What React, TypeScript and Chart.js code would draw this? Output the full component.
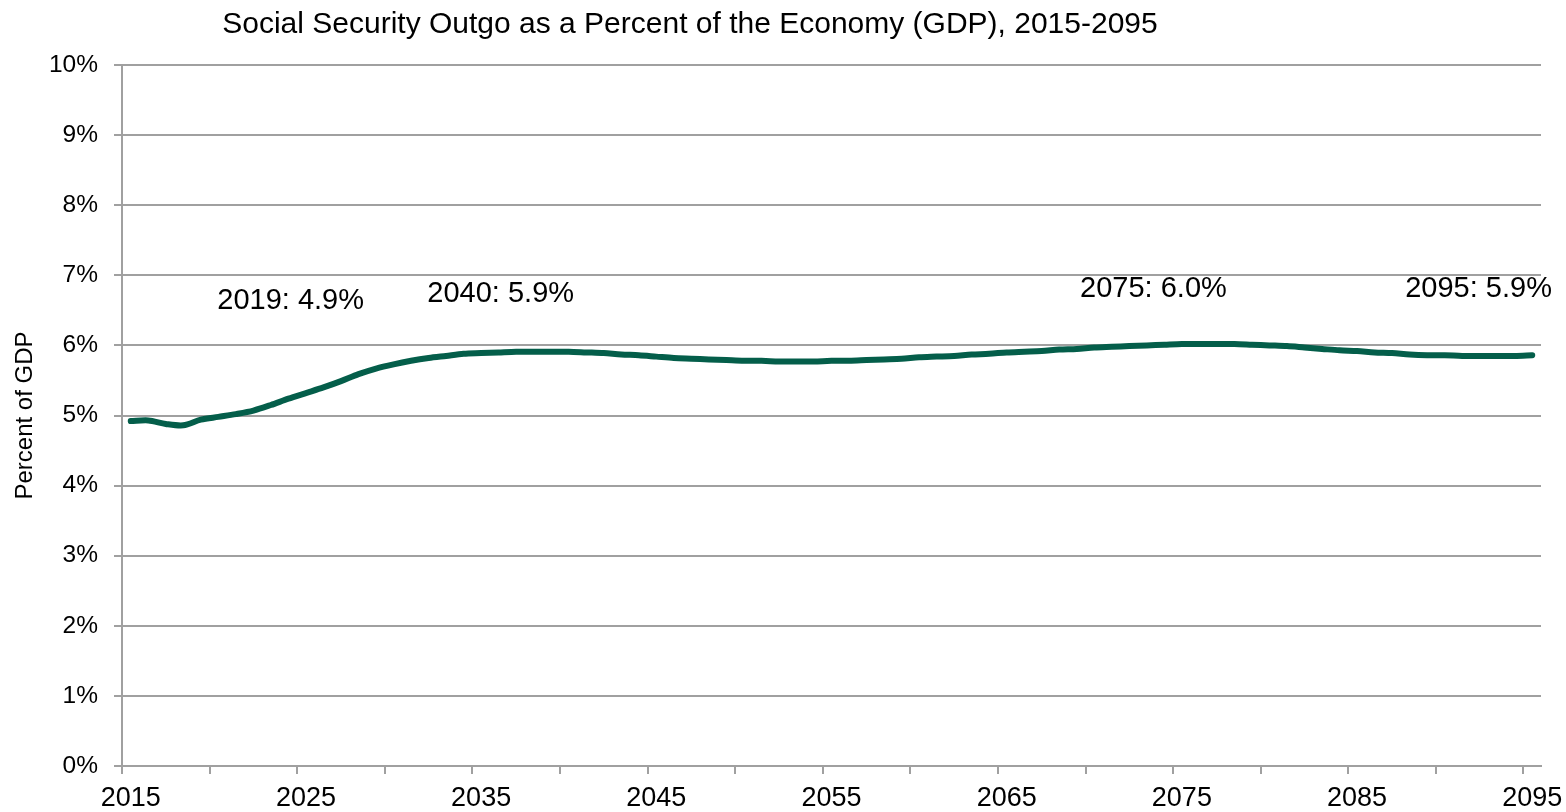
import React, { useEffect, useRef } from "react";
import { Chart, registerables } from "chart.js";

Chart.register(...registerables);

const years: number[] = Array.from({ length: 81 }, (_, i) => 2015 + i);

const outgoPct: number[] = [
  4.92, 4.93, 4.88, 4.86, 4.94, 4.98, 5.02, 5.07, 5.15, 5.24,
  5.32, 5.40, 5.49, 5.59, 5.67, 5.73, 5.78, 5.82, 5.85, 5.88,
  5.89, 5.90, 5.91, 5.91, 5.91, 5.91, 5.90, 5.89, 5.87, 5.86,
  5.84, 5.82, 5.81, 5.80, 5.79, 5.78, 5.78, 5.77, 5.77, 5.77,
  5.78, 5.78, 5.79, 5.80, 5.81, 5.83, 5.84, 5.85, 5.87, 5.88,
  5.90, 5.91, 5.92, 5.94, 5.95, 5.97, 5.98, 5.99, 6.00, 6.01,
  6.02, 6.02, 6.02, 6.02, 6.01, 6.00, 5.99, 5.97, 5.95, 5.93,
  5.92, 5.90, 5.89, 5.87, 5.86, 5.86, 5.85, 5.85, 5.85, 5.85,
  5.86,
];

const tickYears: number[] = [2015, 2020, 2025, 2030, 2035, 2040, 2045, 2050, 2055, 2060, 2065, 2070, 2075, 2080, 2085, 2090, 2095];
const labelYears: number[] = [2015, 2025, 2035, 2045, 2055, 2065, 2075, 2085, 2095];

const calloutTexts: string[] = ["2019: 4.9%", "2040: 5.9%", "2075: 6.0%", "2095: 5.9%"];
const calloutX: number[] = [2019.94, 2031.93, 2069.19, 2087.75];
const calloutY: number[] = [6.63, 6.74, 6.8, 6.8];

const TITLE = "Social Security Outgo as a Percent of the Economy (GDP), 2015-2095";
const FONT = "'Liberation Sans', Arial, sans-serif";

export default function App() {
  const ref = useRef<HTMLCanvasElement | null>(null);

  useEffect(() => {
    if (!ref.current) return;
    const overlay = {
      id: "overlay",
      afterDraw(chart: any) {
        const ctx = chart.ctx;
        const xs = chart.scales.x;
        const ys = chart.scales.y;
        ctx.save();
        ctx.fillStyle = "#000";
        ctx.font = `29px ${FONT}`;
        ctx.textAlign = "left";
        ctx.textBaseline = "middle";
        calloutTexts.forEach((t, i) => {
          ctx.fillText(t, xs.getPixelForValue(calloutX[i]), ys.getPixelForValue(calloutY[i]));
        });
        ctx.font = `30px ${FONT}`;
        ctx.textAlign = "center";
        ctx.textBaseline = "alphabetic";
        ctx.fillText(TITLE, chart.width * 0.4406, 33);
        ctx.restore();
      },
    };

    const chart = new Chart(ref.current, {
      type: "line",
      data: {
        datasets: [
          {
            data: years.map((y, i) => ({ x: y, y: outgoPct[i] })),
            borderColor: "#045E4A",
            borderWidth: 6,
            pointRadius: 0,
            tension: 0.3,
            fill: false,
            borderCapStyle: "round",
          },
        ],
      },
      options: {
        animation: false,
        responsive: true,
        maintainAspectRatio: false,
        layout: { padding: { left: 0, right: 25, top: 65, bottom: 0 } },
        plugins: {
          legend: { display: false },
          tooltip: { enabled: false },
          title: { display: false },
        },
        scales: {
          x: {
            type: "linear",
            min: 2014.5,
            max: 2095.5,
            afterBuildTicks: (s: any) => {
              s.ticks = tickYears.map((v) => ({ value: v - 0.5 }));
            },
            afterFit: (s: any) => {
              s.height = 46;
            },
            grid: {
              drawOnChartArea: false,
              drawTicks: true,
              tickLength: 8,
              color: "#A0A0A0",
              lineWidth: 2,
            },
            border: { display: true, color: "#A0A0A0", width: 2 },
            ticks: {
              autoSkip: false,
              maxRotation: 0,
              labelOffset: 8.76,
              padding: 8,
              color: "#000",
              font: { family: FONT, size: 27 },
              callback: (v: any) => {
                const yr = Math.round(Number(v) + 0.5);
                return labelYears.includes(yr) ? String(yr) : "";
              },
            },
          },
          y: {
            min: 0,
            max: 10,
            afterFit: (s: any) => {
              s.width = 122;
            },
            grid: {
              color: "#A0A0A0",
              lineWidth: 2,
              tickLength: 8,
            },
            border: { display: true, color: "#A0A0A0", width: 2 },
            ticks: {
              stepSize: 1,
              padding: 16,
              color: "#000",
              font: { family: FONT, size: 24.5 },
              callback: (v: any) => `${v}%`,
            },
            title: {
              display: true,
              text: "Percent of GDP",
              color: "#000",
              font: { family: FONT, size: 24 },
              padding: { top: 11, bottom: 0 },
            },
          },
        },
      },
      plugins: [overlay],
    });
    return () => chart.destroy();
  }, []);

  return (
    <div style={{ position: "absolute", left: 0, top: 0, width: 1566, height: 812, background: "#fff" }}>
      <canvas ref={ref} />
    </div>
  );
}
